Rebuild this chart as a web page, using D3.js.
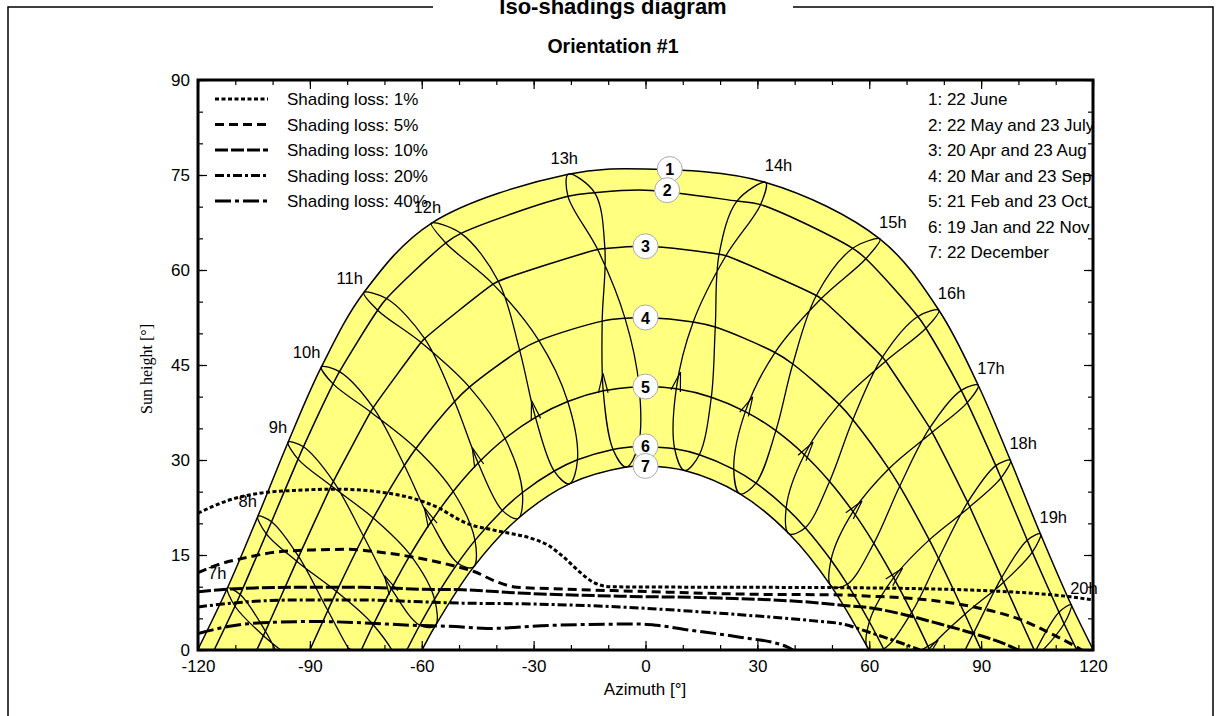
<!DOCTYPE html>
<html>
<head>
<meta charset="utf-8">
<script src="https://cdn.jsdelivr.net/npm/d3@7"></script>
<style>
body { margin: 0; background: #fff; }
text { font-family: Arial, "Liberation Sans", sans-serif; }
</style>
</head>
<body>
<script>
// sun position [azimuth, height] at each legal hour, one list per date
var hours = [7, 8, 9, 10, 11, 12, 13, 14, 15, 16, 17, 18, 19, 20];

var sunJan = [[-78.00,-18.30],[-69.58,-6.88],[-60.55,3.91],[-50.33,13.71],[-38.41,22.04],[-24.47,28.26],[-8.71,31.67],[7.83,31.76],[23.67,28.52],[37.72,22.43],[49.74,14.20],[60.03,4.46],[69.12,-6.28],[77.55,-17.68]];
var sunFeb = [[-86.49,-13.47],[-77.54,-1.70],[-68.13,9.66],[-57.51,20.25],[-44.88,29.53],[-29.51,36.74],[-11.34,40.92],[8.24,41.24],[26.77,37.64],[42.61,30.84],[55.65,21.84],[66.54,11.42],[76.09,0.16],[85.06,-11.57]];
var sunMar = [[-94.35,-5.65],[-85.19,6.24],[-75.60,17.96],[-64.66,29.14],[-51.20,39.24],[-33.74,47.30],[-11.61,51.93],[12.79,51.80],[34.72,46.97],[51.94,38.78],[65.26,28.61],[76.10,17.39],[85.65,5.65],[94.81,-6.24]];
var sunApr = [[-101.92,2.96],[-93.00,14.75],[-83.70,26.63],[-73.01,38.28],[-59.22,49.16],[-39.46,58.23],[-10.89,63.38],[21.56,62.25],[47.08,55.46],[64.40,45.60],[76.89,34.37],[86.96,22.60],[96.03,10.71],[105.01,-0.98]];
var sunMay = [[-108.68,8.75],[-100.28,20.26],[-91.73,32.08],[-82.06,43.95],[-69.43,55.49],[-49.48,65.78],[-13.62,72.19],[30.84,70.32],[59.09,61.78],[75.20,50.80],[86.28,39.06],[95.34,27.17],[103.73,15.45],[112.26,4.14]];
var sunJun = [[-112.11,9.79],[-103.96,21.10],[-95.84,32.81],[-86.91,44.70],[-75.53,56.44],[-57.43,67.38],[-20.71,75.12],[32.24,73.83],[62.90,64.88],[78.67,53.65],[89.22,41.81],[97.85,29.95],[105.91,18.31],[114.15,7.14]];
var sunJul = [[-110.08,6.91],[-101.68,18.35],[-93.17,30.14],[-83.78,42.02],[-71.83,53.65],[-53.56,64.26],[-20.79,71.63],[24.52,70.88],[55.57,63.42],[73.04,52.67],[84.66,41.00],[93.93,29.11],[102.37,17.34],[110.88,5.95]];
var sunAug = [[-102.46,2.26],[-93.54,14.03],[-84.29,25.92],[-73.72,37.59],[-60.18,48.55],[-40.88,57.77],[-12.82,63.23],[19.74,62.50],[45.81,55.97],[63.53,46.24],[76.22,35.06],[86.39,23.31],[95.50,11.42],[104.46,-0.29]];
var sunSep = [[-92.04,-2.66],[-82.85,9.22],[-73.01,20.84],[-61.56,31.82],[-47.23,41.51],[-28.58,48.85],[-5.49,52.37],[18.71,50.99],[39.50,45.16],[55.61,36.36],[68.16,25.86],[78.58,14.46],[87.96,2.66],[97.15,-9.22]];
var sunOct = [[-82.09,-7.63],[-73.01,3.98],[-63.09,15.01],[-51.58,25.03],[-37.67,33.40],[-20.85,39.24],[-1.71,41.58],[17.65,39.92],[34.96,34.63],[49.36,26.62],[61.23,16.84],[71.37,5.94],[80.54,-5.59],[89.49,-17.44]];
var sunNov = [[-74.61,-13.60],[-66.01,-2.40],[-56.57,8.04],[-45.72,17.31],[-33.00,24.87],[-18.24,30.03],[-1.99,32.13],[14.44,30.83],[29.63,26.35],[42.85,19.30],[54.11,10.39],[63.84,0.19],[72.59,-10.86],[80.94,-22.43]];
var sunDec = [[-73.68,-17.73],[-65.41,-6.59],[-56.39,3.81],[-46.12,13.09],[-34.17,20.77],[-20.40,26.24],[-5.16,28.89],[10.51,28.33],[25.34,24.65],[38.49,18.35],[49.82,10.05],[59.61,0.34],[68.32,-10.35],[76.44,-21.69]];

// calendar order for the hour loops (analemmas)
var loopOrder = [sunJan, sunFeb, sunMar, sunApr, sunMay, sunJun, sunJul, sunAug, sunSep, sunOct, sunNov, sunDec];

// the 7 date curves
var dateCurves = [[sunJun], [sunMay, sunJul], [sunApr, sunAug], [sunMar, sunSep], [sunFeb, sunOct], [sunJan, sunNov], [sunDec]];
var sunsetAz = [120.09, 115.67, 104.24, 90, 76.21, 64.00, 59.91];
var noonHeight = [75.94, 72.6, 63.75, 52.5, 41.6, 32.15, 29.06];
var dateLabelAz = [6.5, 5.8, 0, 0, 0, 0, 0];
var dateLegend = ["1: 22 June", "2: 22 May and 23 July", "3: 20 Apr and 23 Aug", "4: 20 Mar and 23 Sep",
                  "5: 21 Feb and 23 Oct", "6: 19 Jan and 22 Nov", "7: 22 December"];

// iso-shading curves [azimuth, height]
var loss1 = [[-120,21.6],[-112,23.6],[-103,24.8],[-94,25.2],[-83,25.4],[-72,25.0],[-60,23.5],[-55,22.3],[-51,20.9],[-47,19.8],[-42,19.1],[-38,18.6],[-31,17.7],[-26,16.5],[-22,14.7],[-17.6,12.3],[-14,10.7],[-9.5,10.0],[-2,9.95],[30,9.9],[60,9.8],[97,9.2],[114,8.4],[120,7.9]];
var loss5 = [[-120,12.2],[-115,13.4],[-107,14.6],[-98.6,15.5],[-89,15.8],[-80,15.9],[-72,15.5],[-62.6,14.7],[-51.5,13.3],[-46,12.4],[-40,10.8],[-34.5,9.9],[-26,9.7],[2,9.2],[29,8.8],[52,8.7],[60,8.5],[70,8.2],[88,6.8],[101,4.7],[108,2.8],[114.6,0.8],[117,0]];
var loss10 = [[-120,9.2],[-112,9.6],[-94,9.9],[-76,9.9],[-60,9.6],[-49,9.5],[-34,9.0],[-7,8.5],[20,8.2],[47,7.4],[52,7.1],[61,6.6],[70,5.5],[79,4.1],[88,2.6],[97,0.8],[100,0]];
var loss20 = [[-120,6.8],[-107,7.6],[-94,7.9],[-76,7.9],[-60,7.6],[-49,7.4],[-34,7.3],[-7,6.8],[20,5.8],[47,4.5],[52,4.2],[61,2.6],[70,0.8],[73.6,0]];
var loss40 = [[-120,2.6],[-112,3.7],[-103,4.3],[-89,4.5],[-76,4.3],[-62.6,3.9],[-51,3.7],[-42.5,3.4],[-25,3.9],[-2,4.1],[3,3.9],[11,3.2],[24.5,2.1],[38,0.5],[39.5,0]];
var lossNames = ["Shading loss: 1%", "Shading loss: 5%", "Shading loss: 10%", "Shading loss: 20%", "Shading loss: 40%"];
var lossDash = ["4,2.5", "9,5", "13,3", "9,3,3,3", "16,4,4,4"];

var xTicks = [-120, -90, -60, -30, 0, 30, 60, 90, 120];
var yTicks = [0, 15, 30, 45, 60, 75, 90];

var width = 1221, height = 716;
var x = d3.scaleLinear().domain([-120, 120]).range([198, 1093]);
var y = d3.scaleLinear().domain([0, 90]).range([650, 80]);

var svg = d3.select("body").append("svg").attr("width", width).attr("height", height);

// outer frame and titles
svg.append("path").attr("d", "M8,716V7H433M793,7H1213V716")
    .attr("fill", "none").attr("stroke", "#000").attr("stroke-width", 1.5);
svg.append("text").attr("x", 613).attr("y", 14).attr("text-anchor", "middle")
    .style("font-size", "22px").style("font-weight", "bold").text("Iso-shadings diagram");
svg.append("text").attr("x", 613).attr("y", 53).attr("text-anchor", "middle")
    .style("font-size", "19.5px").style("font-weight", "bold").text("Orientation #1");

svg.append("clipPath").attr("id", "plotclip").append("rect")
    .attr("x", 198).attr("y", 80).attr("width", 895).attr("height", 570);
var plot = svg.append("g").attr("clip-path", "url(#plotclip)");

var line = d3.line().x(function(d){ return x(d[0]); }).y(function(d){ return y(d[1]); })
    .curve(d3.curveCatmullRom.alpha(0.5));
var loopLine = d3.line().x(function(d){ return x(d[0]); }).y(function(d){ return y(d[1]); })
    .curve(d3.curveCatmullRomClosed.alpha(0.5));
var lossLine = d3.line().x(function(d){ return x(d[0]); }).y(function(d){ return y(d[1]); })
    .curve(d3.curveMonotoneX);

function datePoints(i) {
    var pts = [[-sunsetAz[i], 0], [0, noonHeight[i]], [sunsetAz[i], 0]];
    dateCurves[i].forEach(function(arr){
        arr.forEach(function(p){ if (p[1] > 0.6) pts.push(p); });
    });
    pts.sort(function(a, b){ return a[0] - b[0]; });
    return pts;
}

// yellow band between 22 June and 22 December
var june = datePoints(0), dec = datePoints(6);
plot.append("path")
    .attr("d", line(june) + line(dec.slice().reverse()).replace(/^M/, "L") + "Z")
    .attr("fill", "#ffff80").attr("stroke", "none");

// date curves
dateCurves.forEach(function(c, i){
    plot.append("path").attr("d", line(datePoints(i)))
        .attr("fill", "none").attr("stroke", "#000").attr("stroke-width", 1.5);
});

// hour loops
hours.forEach(function(h, k){
    var pts = loopOrder.map(function(arr){ return arr[k]; });
    plot.append("path").attr("d", loopLine(pts))
        .attr("fill", "none").attr("stroke", "#000").attr("stroke-width", 1.3);

    // arrow on the spring branch, between Feb and Mar
    var a = [x(sunFeb[k][0]), y(sunFeb[k][1])], b = [x(sunMar[k][0]), y(sunMar[k][1])];
    var t = 0.25;
    var tip = [a[0] + (b[0] - a[0]) * t, a[1] + (b[1] - a[1]) * t];
    var ang = Math.atan2(a[1] - b[1], a[0] - b[0]);
    var L = 20, s = 14 * Math.PI / 180;
    var p1 = [tip[0] + L * Math.cos(ang + s), tip[1] + L * Math.sin(ang + s)];
    var p2 = [tip[0] + L * Math.cos(ang - s), tip[1] + L * Math.sin(ang - s)];
    plot.append("path").attr("d", "M" + p1 + "L" + tip + "L" + p2)
        .attr("fill", "none").attr("stroke", "#000").attr("stroke-width", 1.2);
});

// iso-shading lines
[loss1, loss5, loss10, loss20, loss40].forEach(function(d, i){
    plot.append("path").attr("d", lossLine(d))
        .attr("fill", "none").attr("stroke", "#000").attr("stroke-width", 3)
        .attr("stroke-dasharray", lossDash[i]);
});

// date legend (clipped by the frame like the original)
dateLegend.forEach(function(s, i){
    plot.append("text").attr("x", 928).attr("y", 105 + i * 25.5)
        .style("font-size", "17px").text(s);
});

// date number bubbles
dateLegend.forEach(function(s, i){
    var cx = x(dateLabelAz[i]), cy = y(noonHeight[i]);
    plot.append("circle").attr("cx", cx).attr("cy", cy).attr("r", 12.5)
        .attr("fill", "#fff").attr("stroke", "#aaa").attr("stroke-width", 1);
    plot.append("text").attr("x", cx).attr("y", cy + 6).attr("text-anchor", "middle")
        .style("font-size", "16px").style("font-weight", "bold").text(i + 1);
});

// hour labels near the June end of each loop
hours.forEach(function(h, k){
    var p = sunJun[k], px = x(p[0]), py = y(p[1]);
    var anchor = h < 12 ? "end" : (h > 13 ? "start" : "middle");
    var dx = h < 12 ? -1 : (h > 13 ? -1 : -4);
    var dy = h < 12 ? -9 : (h > 13 ? -11 : -10);
    svg.append("text").attr("x", px + dx).attr("y", py + dy).attr("text-anchor", anchor)
        .style("font-size", "16.5px").text(h + "h");
});

// shading loss legend
lossNames.forEach(function(s, i){
    var ly = 99 + i * 25.5;
    svg.append("line").attr("x1", 215).attr("x2", 268).attr("y1", ly).attr("y2", ly)
        .attr("stroke", "#000").attr("stroke-width", 3).attr("stroke-dasharray", lossDash[i]);
    svg.append("text").attr("x", 287).attr("y", ly + 6).style("font-size", "17px").text(s);
});

// axes, ticks pointing inward on all four sides
function minor(step, lo, hi) { return d3.range(lo, hi + 0.001, step); }
function plain(d) { return String(d); }

svg.append("g").attr("transform", "translate(0,650)")
    .call(d3.axisBottom(x).tickValues(xTicks).tickSize(-9).tickPadding(10).tickFormat(plain));
svg.append("g").attr("transform", "translate(0,650)")
    .call(d3.axisBottom(x).tickValues(minor(10, -120, 120)).tickSize(-5).tickFormat(""));
svg.append("g").attr("transform", "translate(0,80)")
    .call(d3.axisTop(x).tickValues(xTicks).tickSize(-9).tickFormat(""));
svg.append("g").attr("transform", "translate(0,80)")
    .call(d3.axisTop(x).tickValues(minor(10, -120, 120)).tickSize(-5).tickFormat(""));
svg.append("g").attr("transform", "translate(198,0)")
    .call(d3.axisLeft(y).tickValues(yTicks).tickSize(-9).tickPadding(8).tickFormat(plain));
svg.append("g").attr("transform", "translate(198,0)")
    .call(d3.axisLeft(y).tickValues(minor(5, 0, 90)).tickSize(-5).tickFormat(""));
svg.append("g").attr("transform", "translate(1093,0)")
    .call(d3.axisRight(y).tickValues(yTicks).tickSize(-9).tickFormat(""));
svg.append("g").attr("transform", "translate(1093,0)")
    .call(d3.axisRight(y).tickValues(minor(5, 0, 90)).tickSize(-5).tickFormat(""));

svg.selectAll(".domain").remove();
svg.selectAll(".tick line").attr("stroke", "#000").attr("stroke-width", 1.2);
svg.selectAll(".tick text").style("font-size", "17px").style("font-family", "Arial, 'Liberation Sans', sans-serif").attr("fill", "#000");

svg.append("rect").attr("x", 198).attr("y", 80).attr("width", 895).attr("height", 570)
    .attr("fill", "none").attr("stroke", "#000").attr("stroke-width", 3);

svg.append("text").attr("x", 645).attr("y", 695).attr("text-anchor", "middle")
    .style("font-size", "17px").text("Azimuth [°]");
svg.append("text").attr("transform", "translate(152,369) rotate(-90)").attr("text-anchor", "middle")
    .style("font-family", "'Liberation Serif', 'Times New Roman', serif").style("font-size", "16px")
    .text("Sun height [°]");
</script>
</body>
</html>
